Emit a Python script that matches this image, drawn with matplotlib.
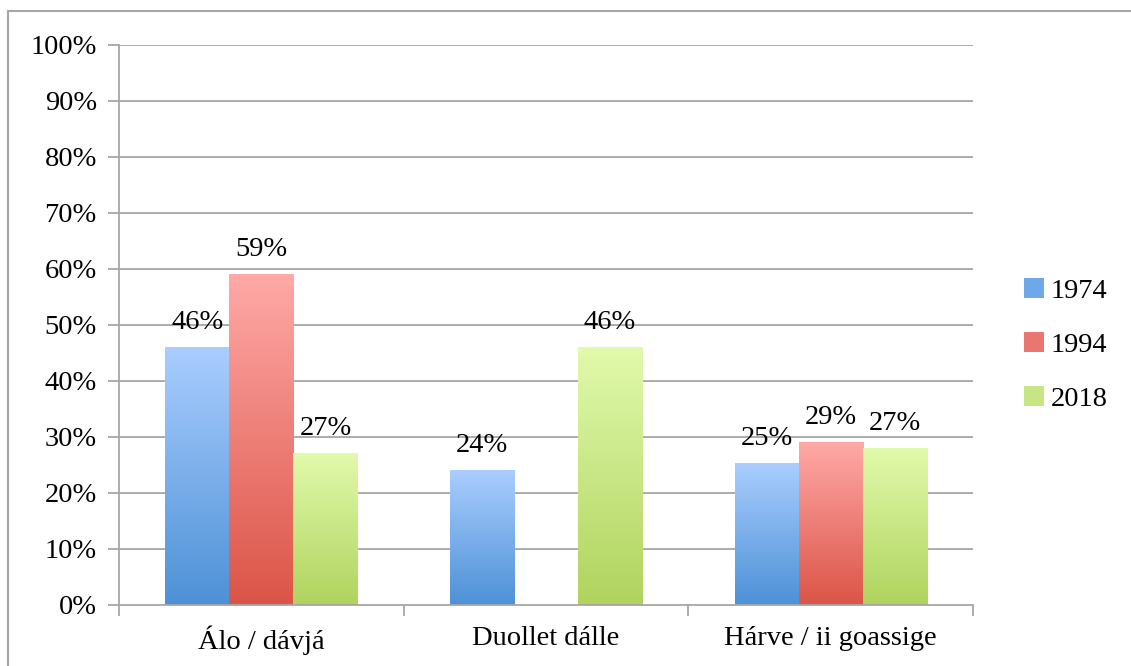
import numpy as np
import matplotlib
matplotlib.use("Agg")
import matplotlib.pyplot as plt
from matplotlib.colors import LinearSegmentedColormap
from matplotlib.patches import Rectangle
from matplotlib.lines import Line2D

categories = ["Álo / dávjá", "Duollet dálle", "Hárve / ii goassige"]
series = ["1974", "1994", "2018"]
values_1974 = [46, 24, 25.2]
values_1994 = [59, None, 29]
values_2018 = [27, 46, 28]
labels_1974 = ["46%", "24%", "25%"]
labels_1994 = ["59%", None, "29%"]
labels_2018 = ["27%", "46%", "27%"]
yticks = [0, 10, 20, 30, 40, 50, 60, 70, 80, 90, 100]

colors_top = ["#AACDFF", "#FFA9A7", "#E1FAAC"]
colors_bot = ["#4D91D6", "#DB5447", "#B0D35E"]
colors_leg = ["#6FA8E8", "#E97670", "#C6E584"]

plt.rcParams['font.family'] = ['Liberation Serif', 'DejaVu Serif']
FS = 20.5

fig = plt.figure(figsize=(11.31, 6.66), dpi=100)
W, H = 1131, 666
ax = fig.add_axes([119 / W, 1 - 605 / H, (973 - 119) / W, (605 - 45) / H])
ax.set_xlim(0, 3)
ax.set_ylim(0, 100)

grad = np.linspace(0, 1, 256).reshape(-1, 1)
bw = 0.225
all_vals = [values_1974, values_1994, values_2018]
all_labels = [labels_1974, labels_1994, labels_2018]
for s, (vals, labs) in enumerate(zip(all_vals, all_labels)):
    cmap = LinearSegmentedColormap.from_list("g%d" % s, [colors_bot[s], colors_top[s]])
    for i, v in enumerate(vals):
        if v is None:
            continue
        x0 = i + 0.5 + (s - 1.5) * bw
        ax.imshow(grad, extent=[x0, x0 + bw, 0, v], origin="lower", cmap=cmap,
                  aspect="auto", zorder=3, interpolation="bilinear")
        ax.text(x0 + bw / 2, v + 3.3, labs[i], ha="center", va="baseline",
                fontsize=FS, color="black", zorder=4)
ax.set_xlim(0, 3)
ax.set_ylim(0, 100)

for t in yticks[1:]:
    ax.axhline(t, color="#A6A6A6", lw=1.3, zorder=1)
ax.set_yticks(yticks)
ax.set_yticklabels(["%d%%" % t for t in yticks], fontsize=FS)
ax.set_xticks([0, 1, 2, 3])
ax.set_xticklabels([])
ax.set_xticks([0.5, 1.5, 2.5], minor=True)
ax.set_xticklabels(categories, minor=True, fontsize=FS)
ax.tick_params(axis="x", which="minor", length=0, pad=15)
ax.tick_params(axis="x", which="major", length=8, color="#A6A6A6", width=1.3)
ax.tick_params(axis="y", length=8, color="#A6A6A6", width=1.3, pad=8)
for sp in ["top", "right"]:
    ax.spines[sp].set_visible(False)
for sp in ["left", "bottom"]:
    ax.spines[sp].set_color("#A6A6A6")
    ax.spines[sp].set_linewidth(1.3)
    ax.spines[sp].set_zorder(5)

# legend
handles = [Rectangle((0, 0), 1, 1, facecolor=c, edgecolor="none") for c in colors_leg]
leg = fig.legend(handles, series, loc="center left", bbox_to_anchor=(998 / W, 1 - 345 / H),
                 frameon=False, fontsize=FS, handlelength=0.7, handleheight=0.7,
                 handletextpad=0.25, labelspacing=1.0)

# outer border
fig.add_artist(Line2D([8 / W, 8 / W], [0, 1 - 11 / H], transform=fig.transFigure,
                      color="#A6A6A6", lw=1.5))
fig.add_artist(Line2D([8 / W, 1], [1 - 11 / H, 1 - 11 / H], transform=fig.transFigure,
                      color="#A6A6A6", lw=1.5))

fig.savefig("out.png", dpi=100)
